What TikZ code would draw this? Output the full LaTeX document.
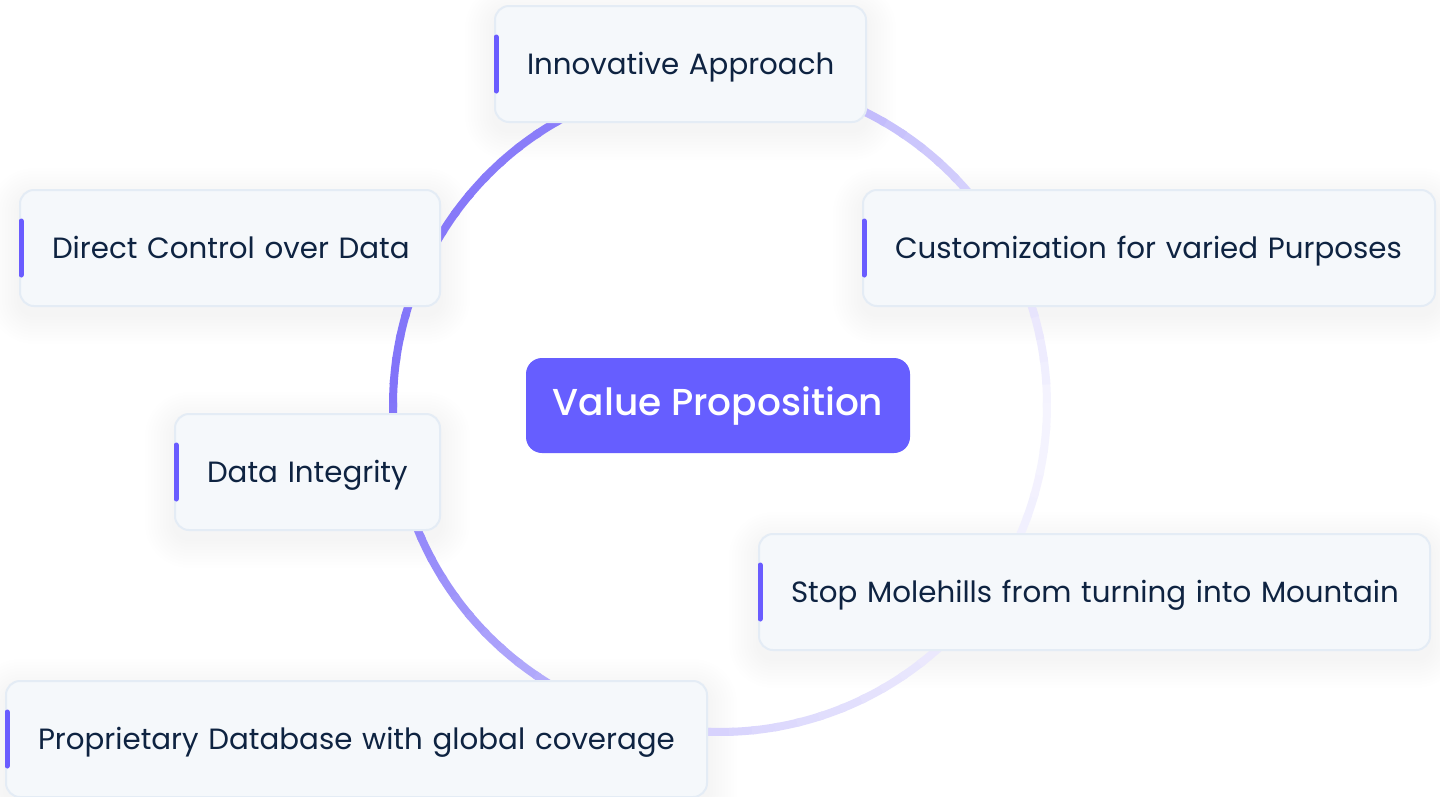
\documentclass[tikz,border=0pt]{standalone}
\usepackage{fontspec}
\setmainfont{Poppins}
\IfFontExistsTF{Poppins Medium}
  {\newfontfamily\titlefont{Poppins Medium}}
  {\newfontfamily\titlefont{Poppins}[FakeBold=1.5]}
\usetikzlibrary{backgrounds}

\definecolor{boxfill}{HTML}{F5F8FB}
\definecolor{boxline}{HTML}{E4ECF5}
\definecolor{accent}{HTML}{6A5CFF}
\definecolor{hub}{HTML}{665EFF}
\definecolor{ink}{HTML}{0E2341}
\definecolor{ringdark}{HTML}{8173F9}
\definecolor{ringlight}{HTML}{F5F4FE}

\tikzset{
  card/.style={rectangle, rounded corners=14pt, fill=boxfill, draw=boxline,
    line width=2pt, outer sep=0pt, inner xsep=32pt, inner ysep=0pt,
    minimum height=116pt, anchor=north west, align=left, text=ink,
    text height=20pt, text depth=0pt,
    font=\fontsize{29.3}{34}\selectfont},
  hubbox/.style={rectangle, rounded corners=16pt, fill=hub, draw=none,
    outer sep=0pt, inner sep=0pt, minimum width=384pt, minimum height=95pt,
    text height=19pt, text depth=0pt,
    anchor=north west, text=white, font=\titlefont\fontsize{37.5}{44}\selectfont},
  mark bar/.style={draw=accent, line width=5pt, line cap=round},
}

% soft shadow under a card, built from stacked translucent rounded boxes
\newcommand\cardshadow[1]{%
  \begin{pgfonlayer}{background}
  \foreach \k in {1,...,10}{
    \pgfmathsetmacro\rr{14+3*\k}
    \fill[black, opacity=0.0035, rounded corners=\rr pt]
      ([shift={(-3*\k pt,-3*\k pt-8pt)}]#1.south west) rectangle
      ([shift={(3*\k pt,3*\k pt-8pt)}]#1.north east);
  }
  \end{pgfonlayer}}

\begin{document}
\begin{tikzpicture}[x=1pt,y=1pt]
\begin{pgfonlayer}{background}
  \fill[white] (0,0) rectangle (1440,-796);
\end{pgfonlayer}
\useasboundingbox (0,0) rectangle (1440,-796);

% gradient ring, drawn as short arc pieces
\coordinate (ctr) at (720,-405);
\foreach \a in {0,4,...,356}{
  \pgfmathsetmacro\m{\a+2}
  \pgfmathtruncatemacro\p{\m<56 ? 0.679*\m :
    (\m<119 ? 38+0.857*(\m-56) :
    (\m<180 ? 92+0.131*(\m-119) :
    (\m<209 ? 100-0.69*(\m-180) :
    (\m<238 ? 80-0.828*(\m-209) :
    (\m<268 ? 56-0.967*(\m-238) :
    (\m<314 ? 27-0.413*(\m-268) : 8-0.174*(\m-314)))))))}
  \draw[line width=8pt, ringdark!\p!ringlight]
    ([shift={(\a-0.4:327)}]ctr) arc[start angle=\a-0.4, end angle=\a+4.4, radius=327];
}

% centre node
\node[hubbox] (hub) at (526,-358) {Value Proposition};

% surrounding cards
\node[card, minimum width=371pt, text width=307pt] (c1) at (495,-6) {\mbox{Innovative Approach}};
\node[card, minimum width=420pt, text width=356pt] (c2) at (20,-190) {\mbox{Direct Control over Data}};
\node[card, minimum width=572pt, text width=508pt] (c3) at (863,-190) {\mbox{Customization for varied Purposes}};
\node[card, minimum width=265pt, text width=201pt] (c4) at (175,-414) {\mbox{Data Integrity}};
\node[card, minimum width=671pt, text width=607pt] (c5) at (759,-534) {\mbox{Stop Molehills from turning into Mountain}};
\node[card, minimum width=701pt, text width=637pt] (c6) at (6,-681) {\mbox{Proprietary Database with global coverage}};

% shadows and accent bars on the left edge of each card
\foreach \c in {c1,c2,c3,c4,c5,c6}{
  \cardshadow{\c}
  \draw[mark bar] ([xshift=1pt,yshift=27pt]\c.west) -- ([xshift=1pt,yshift=-27pt]\c.west);
}
\end{tikzpicture}
\end{document}
